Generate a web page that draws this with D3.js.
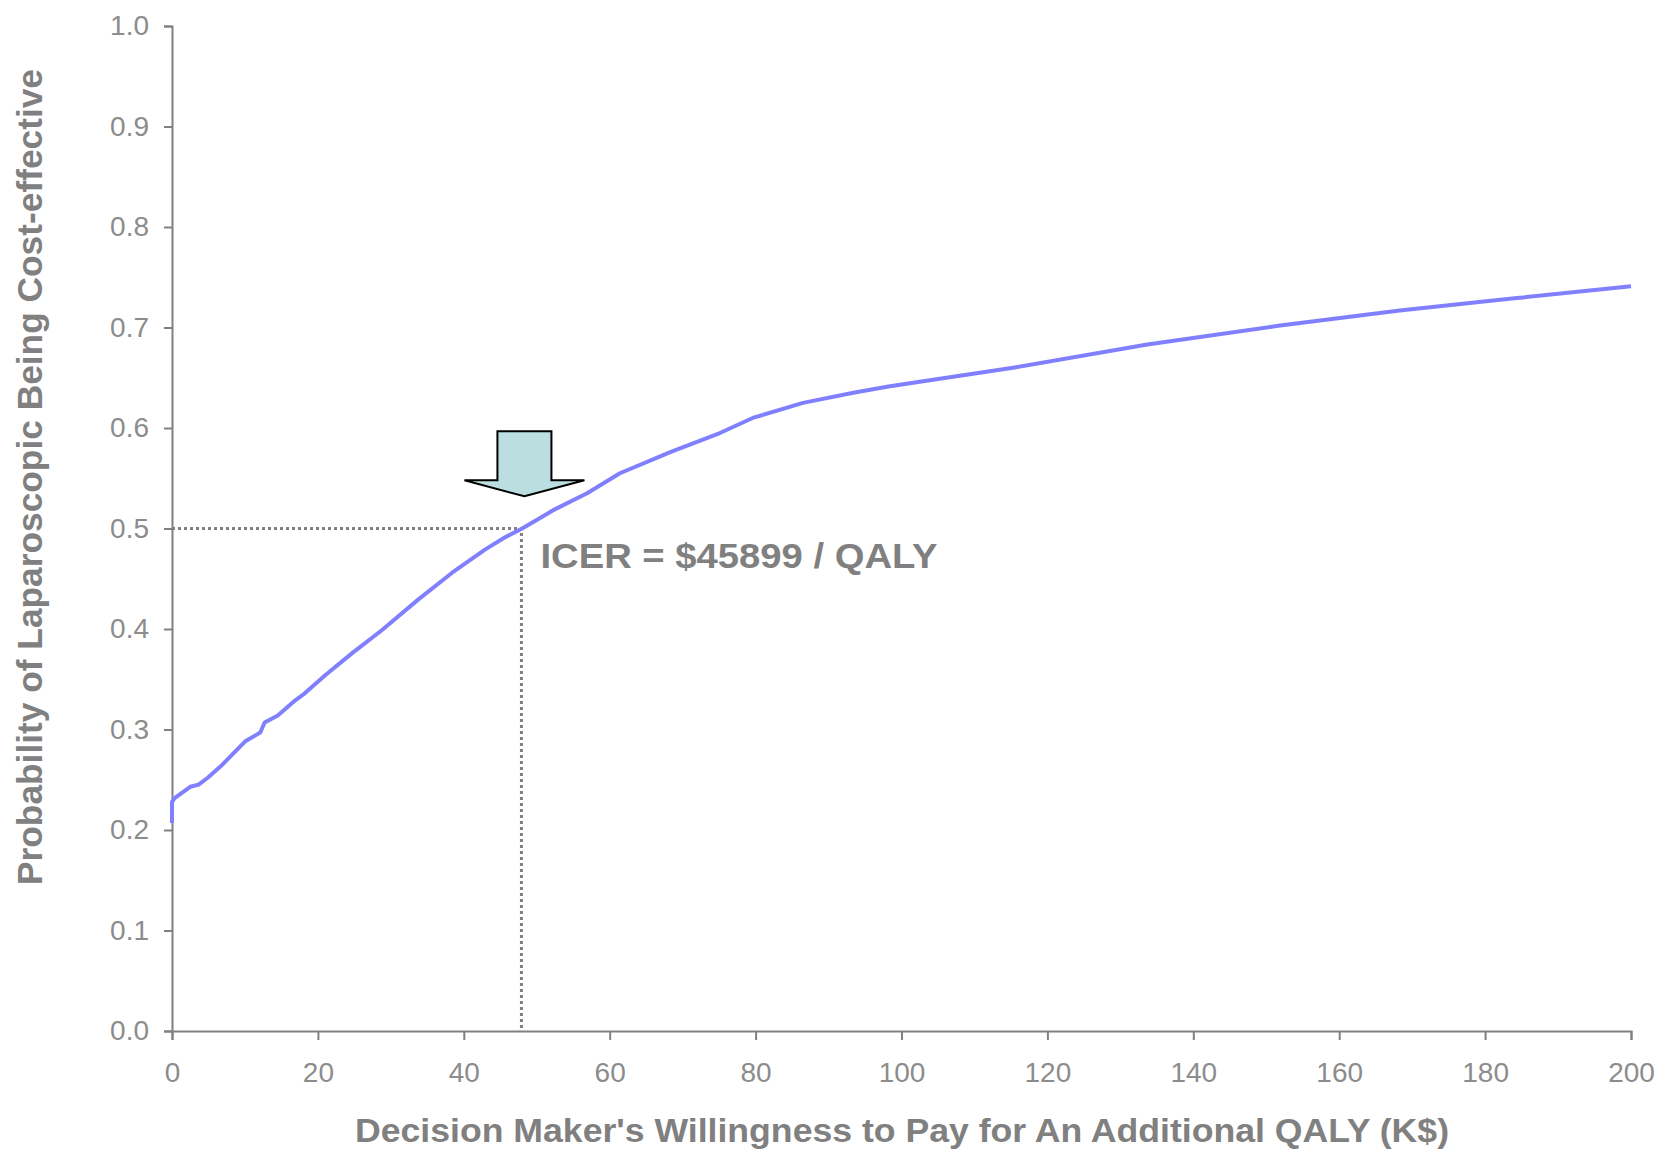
<!DOCTYPE html>
<html>
<head>
<meta charset="utf-8">
<script src="https://cdn.jsdelivr.net/npm/d3@7"></script>
<style>
  html, body { margin: 0; padding: 0; background: #fff; }
  svg { display: block; }
</style>
</head>
<body>
<svg id="chart" width="1671" height="1153"></svg>
<script>
// willingness to pay (K$) and probability cost-effective
var wtp  = [0, 0, 0.4, 2.5, 3.6, 4.9, 6.9, 10, 12.1, 12.7, 14.5, 16.9, 18.2, 21, 24.7, 28.8, 33.7, 38.4, 42.9, 45.6, 48, 52.2, 56.9, 61.4, 68.3, 75.1, 79.6, 86.5, 93.4, 98, 102.5, 115.3, 133.7, 151.9, 168.3, 184, 200];
var prob = [0.207, 0.228, 0.232, 0.243, 0.245, 0.252, 0.265, 0.288, 0.297, 0.307, 0.314, 0.329, 0.336, 0.354, 0.376, 0.399, 0.429, 0.456, 0.479, 0.491, 0.5, 0.518, 0.535, 0.555, 0.576, 0.595, 0.610, 0.625, 0.635, 0.641, 0.646, 0.660, 0.683, 0.702, 0.717, 0.729, 0.741];

var xTicks = [0, 20, 40, 60, 80, 100, 120, 140, 160, 180, 200];
var yTicks = [0, 0.1, 0.2, 0.3, 0.4, 0.5, 0.6, 0.7, 0.8, 0.9, 1.0];

var icerX = 47.9, icerY = 0.5;
var icerLabel = "ICER = $45899 / QALY";
var xTitle = "Decision Maker's Willingness to Pay for An Additional QALY (K$)";
var yTitle = "Probability of Laparoscopic Being Cost-effective";

var svg = d3.select("#chart");
var margin = {left: 172, top: 26, right: 40, bottom: 122};
var width = 1671, height = 1153;
var grey = "#808080";
var font = "'Liberation Sans', Arial, sans-serif";

var x = d3.scaleLinear().domain([0, 200]).range([margin.left, width - margin.right]);
var y = d3.scaleLinear().domain([0, 1]).range([height - margin.bottom, margin.top]);

// axes
svg.append("g")
    .attr("transform", "translate(0," + y(0) + ")")
    .call(d3.axisBottom(x).tickValues(xTicks).tickFormat(d3.format("d")).tickSizeOuter(0).tickSize(9).tickPadding(22));
svg.append("g")
    .attr("transform", "translate(" + x(0) + ",0)")
    .call(d3.axisLeft(y).tickValues(yTicks).tickFormat(d3.format(".1f")).tickSizeOuter(0).tickSize(8).tickPadding(15));

svg.selectAll(".domain, .tick line").attr("stroke", grey).attr("stroke-width", 2);
svg.selectAll(".tick text")
    .attr("fill", "#8c8c8c")
    .style("font-family", font)
    .style("font-size", "28px");

// dotted guides to the ICER point
svg.append("path")
    .attr("d", "M" + x(0) + "," + y(icerY) + "H" + x(icerX) + "V" + y(0))
    .attr("fill", "none")
    .attr("stroke", grey)
    .attr("stroke-width", 3)
    .attr("stroke-dasharray", "3,3");

// the acceptability curve
var line = d3.line().x(function (d, i) { return x(wtp[i]); }).y(function (d) { return y(d); });
svg.append("path")
    .datum(prob)
    .attr("d", line)
    .attr("fill", "none")
    .attr("stroke", "#8080ff")
    .attr("stroke-width", 4)
    .attr("stroke-linejoin", "round");

// block arrow pointing at the curve
var ax = x(icerX) + 3, tip = y(0.532);
var arrow = [[ax - 27, tip - 65], [ax + 27, tip - 65], [ax + 27, tip - 16], [ax + 60, tip - 16],
             [ax, tip], [ax - 60, tip - 16], [ax - 27, tip - 16]];
svg.append("path")
    .attr("d", d3.line()(arrow) + "Z")
    .attr("fill", "#bbdfe1")
    .attr("stroke", "#000")
    .attr("stroke-width", 2);

svg.append("text")
    .attr("x", x(icerX) + 19)
    .attr("y", y(icerY) + 39)
    .attr("textLength", 397)
    .attr("lengthAdjust", "spacingAndGlyphs")
    .attr("fill", grey)
    .style("font-family", font)
    .style("font-weight", "bold")
    .style("font-size", "35px")
    .text(icerLabel);

// axis titles
svg.append("text")
    .attr("x", 902)
    .attr("y", 1142)
    .attr("text-anchor", "middle")
    .attr("textLength", 1094)
    .attr("lengthAdjust", "spacingAndGlyphs")
    .attr("fill", grey)
    .style("font-family", font)
    .style("font-weight", "bold")
    .style("font-size", "34px")
    .text(xTitle);

svg.append("text")
    .attr("transform", "translate(42,477) rotate(-90)")
    .attr("text-anchor", "middle")
    .attr("textLength", 816)
    .attr("lengthAdjust", "spacingAndGlyphs")
    .attr("fill", grey)
    .style("font-family", font)
    .style("font-weight", "bold")
    .style("font-size", "35px")
    .text(yTitle);
</script>
</body>
</html>
